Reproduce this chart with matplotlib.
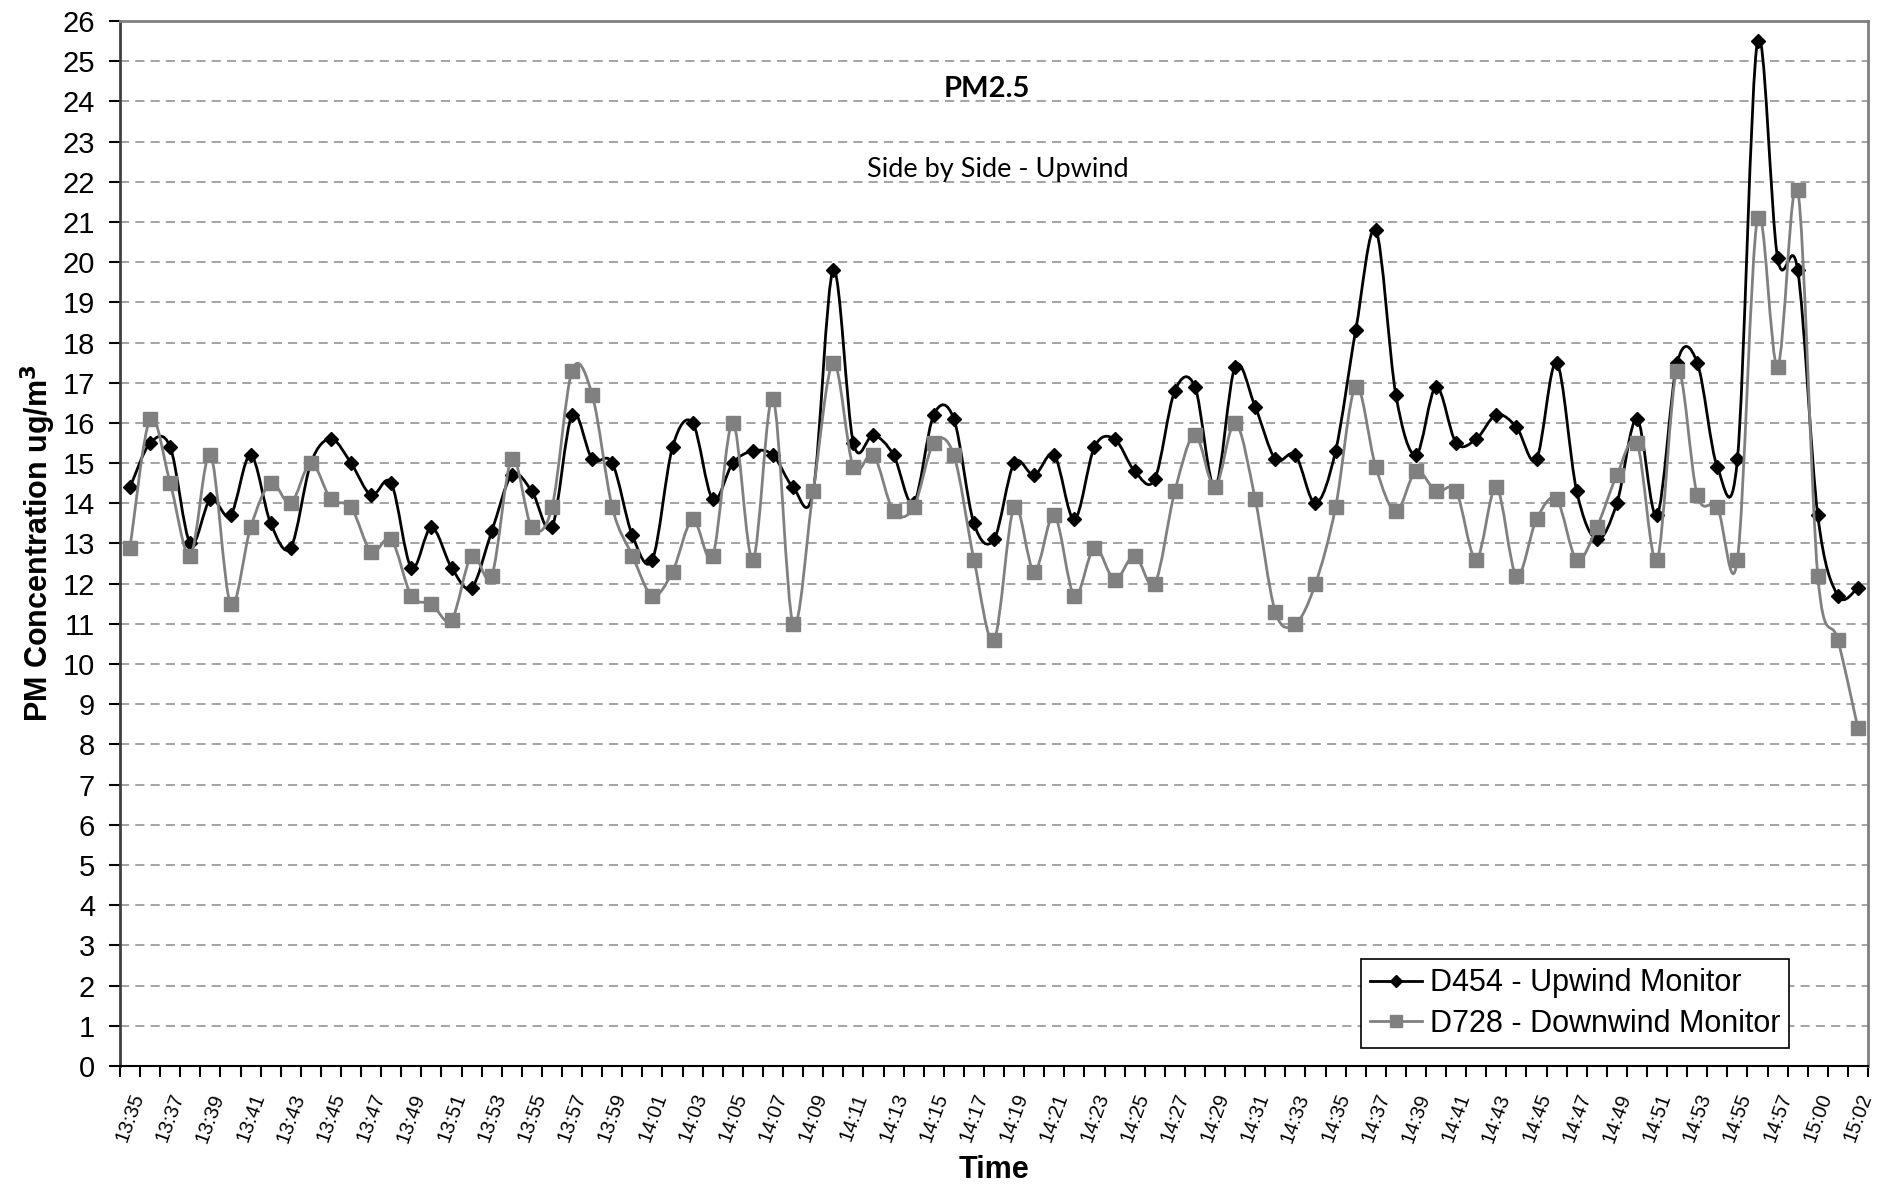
import numpy as np
import matplotlib
matplotlib.use("Agg")
import matplotlib.pyplot as plt
from matplotlib.path import Path
from matplotlib.patches import PathPatch
from matplotlib.lines import Line2D

plt.rcParams['font.family'] = ['Liberation Sans', 'DejaVu Sans']

# ---------- data ----------
times = ([f"13:{m:02d}" for m in range(35, 60)] +
         [f"14:{m:02d}" for m in range(0, 58)] +
         ["14:59", "15:00", "15:01", "15:02"])

d454 = [14.4, 15.5, 15.4, 13.0, 14.1, 13.7, 15.2, 13.5, 12.9, 15.0,
        15.6, 15.0, 14.2, 14.5, 12.4, 13.4, 12.4, 11.9, 13.3, 14.7,
        14.3, 13.4, 16.2, 15.1, 15.0, 13.2, 12.6, 15.4, 16.0, 14.1,
        15.0, 15.3, 15.2, 14.4, 14.3, 19.8, 15.5, 15.7, 15.2, 14.0,
        16.2, 16.1, 13.5, 13.1, 15.0, 14.7, 15.2, 13.6, 15.4, 15.6,
        14.8, 14.6, 16.8, 16.9, 14.4, 17.4, 16.4, 15.1, 15.2, 14.0,
        15.3, 18.3, 20.8, 16.7, 15.2, 16.9, 15.5, 15.6, 16.2, 15.9,
        15.1, 17.5, 14.3, 13.1, 14.0, 16.1, 13.7, 17.5, 17.5, 14.9,
        15.1, 25.5, 20.1, 19.8, 13.7, 11.7, 11.9]

d728 = [12.9, 16.1, 14.5, 12.7, 15.2, 11.5, 13.4, 14.5, 14.0, 15.0,
        14.1, 13.9, 12.8, 13.1, 11.7, 11.5, 11.1, 12.7, 12.2, 15.1,
        13.4, 13.9, 17.3, 16.7, 13.9, 12.7, 11.7, 12.3, 13.6, 12.7,
        16.0, 12.6, 16.6, 11.0, 14.3, 17.5, 14.9, 15.2, 13.8, 13.9,
        15.5, 15.2, 12.6, 10.6, 13.9, 12.3, 13.7, 11.7, 12.9, 12.1,
        12.7, 12.0, 14.3, 15.7, 14.4, 16.0, 14.1, 11.3, 11.0, 12.0,
        13.9, 16.9, 14.9, 13.8, 14.8, 14.3, 14.3, 12.6, 14.4, 12.2,
        13.6, 14.1, 12.6, 13.4, 14.7, 15.5, 12.6, 17.3, 14.2, 13.9,
        12.6, 21.1, 17.4, 21.8, 12.2, 10.6, 8.4]

labels = ["D454 - Upwind Monitor", "D728 - Downwind Monitor"]


def smooth_path(xs, ys, t=1/6.):
    # Excel style smoothed line (Catmull-Rom as cubic Bezier)
    n = len(xs)
    verts = [(xs[0], ys[0])]
    codes = [Path.MOVETO]
    for i in range(n - 1):
        xa, ya = (xs[i-1], ys[i-1]) if i > 0 else (xs[i], ys[i])
        xb, yb = (xs[i+2], ys[i+2]) if i + 2 < n else (xs[i+1], ys[i+1])
        c1 = (xs[i] + (xs[i+1] - xa) * t, ys[i] + (ys[i+1] - ya) * t)
        c2 = (xs[i+1] - (xb - xs[i]) * t, ys[i+1] - (yb - ys[i]) * t)
        verts += [c1, c2, (xs[i+1], ys[i+1])]
        codes += [Path.CURVE4] * 3
    return Path(verts, codes)


fig = plt.figure(figsize=(18.81, 11.86), dpi=100)
ax = fig.add_axes([0.0638, 0.1012, 0.9293, 0.8811])

x = np.arange(len(times))
gray = '#808080'

ax.add_patch(PathPatch(smooth_path(x, d454), fill=False, edgecolor='black', lw=2.0, zorder=3))
ax.plot(x, d454, ls='none', marker='D', ms=6.8, color='black', zorder=4)
ax.add_patch(PathPatch(smooth_path(x, d728), fill=False, edgecolor=gray, lw=2.0, zorder=5))
ax.plot(x, d728, ls='none', marker='s', ms=10, color=gray, zorder=6)

ax.set_xlim(-0.5, len(times) - 0.5)
ax.set_ylim(0, 26)
ax.set_yticks(range(0, 27))
ax.tick_params(axis='y', labelsize=21, length=8, width=1.5, pad=10, direction='out')
for v in range(1, 26):
    ax.axhline(v, color='#8c8c8c', lw=1.1, ls=(0, (6, 4)), zorder=1)

# category axis: ticks between categories, every other label
ax.set_xticks(np.arange(len(times) + 1) - 0.5)
ax.set_xticklabels([])
ax.tick_params(axis='x', length=8, width=1.5, direction='out')
ax.set_xticks(x[::2], minor=True)
ax.set_xticklabels(times[::2], minor=True, rotation=70, fontsize=14.5)
ax.tick_params(axis='x', which='minor', length=0, pad=18)

for s in ['top', 'right']:
    ax.spines[s].set_color(gray)
    ax.spines[s].set_linewidth(2)
ax.spines['left'].set_color('#404040')
ax.spines['left'].set_linewidth(2)
ax.spines['bottom'].set_color('black')
ax.spines['bottom'].set_linewidth(1.5)

ax.set_ylabel("PM Concentration ug/m$^\\mathbf{3}$", fontsize=22, fontweight='bold', labelpad=3)
ax.set_xlabel("Time", fontsize=22, fontweight='bold', labelpad=7)

ax.text(0.496, 0.935, "PM2.5", transform=ax.transAxes, ha='center', va='center',
        fontsize=21, fontweight='bold', family=['Lato', 'DejaVu Sans'])
ax.text(0.502, 0.858, "Side by Side - Upwind", transform=ax.transAxes, ha='center',
        va='center', fontsize=19.5, family=['Lato', 'DejaVu Sans'])

handles = [Line2D([], [], color='black', lw=2, marker='D', ms=6),
           Line2D([], [], color=gray, lw=2, marker='s', ms=9)]
leg = ax.legend(handles, labels, loc='lower right', bbox_to_anchor=(0.955, 0.017),
                fontsize=22, frameon=True, fancybox=False, framealpha=1,
                edgecolor='black', handlelength=1.7, handletextpad=0.25,
                labelspacing=0.35, borderpad=0.3, borderaxespad=0)
leg.get_frame().set_linewidth(1.2)
leg.set_zorder(10)

fig.savefig("out.png", dpi=100)
